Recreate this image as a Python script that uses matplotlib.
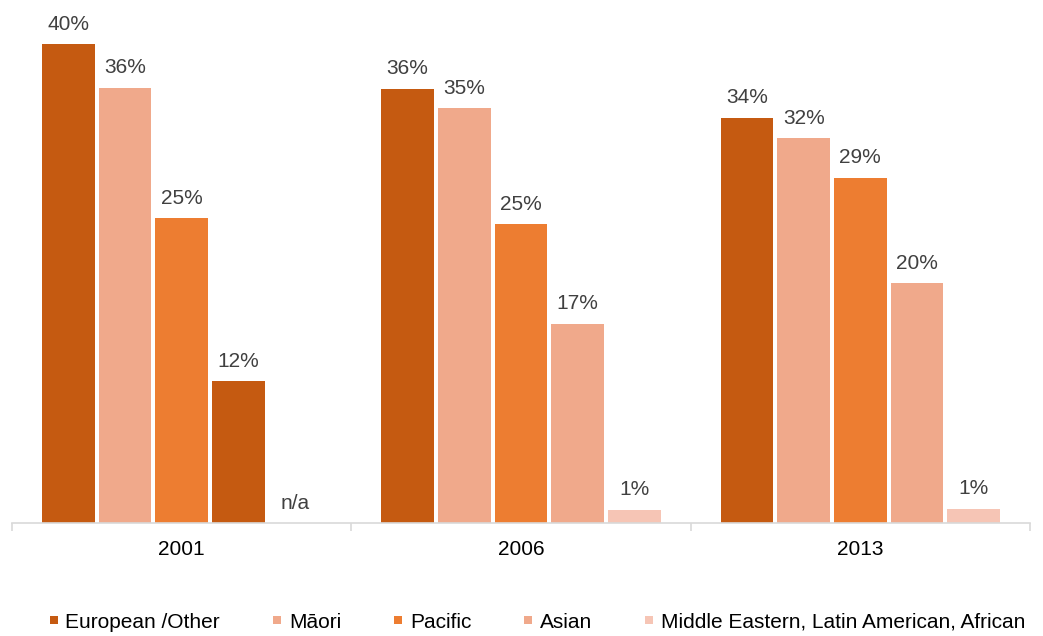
import numpy as np
import matplotlib
matplotlib.use("Agg")
import matplotlib.pyplot as plt
from matplotlib.lines import Line2D

plt.rcParams['font.family'] = ['Liberation Sans', 'DejaVu Sans']

years = ["2001", "2006", "2013"]
series = ["European /Other", "Māori", "Pacific", "Asian",
          "Middle Eastern, Latin American, African"]
european = [39.9, 36.2, 33.8]
maori = [36.3, 34.6, 32.1]
pacific = [25.4, 24.9, 28.8]
asian = [11.8, 16.6, 20.0]
melaa = [np.nan, 1.1, 1.2]
values = [european, maori, pacific, asian, melaa]

colors = ["#C55A11", "#F0A98B", "#ED7D31", "#F0A98B", "#F6C5B5"]
# the 2001 Asian bar is drawn in the dark colour in the original
override = {(3, 0): "#C55A11"}

fig = plt.figure(figsize=(10.43, 6.36), dpi=100)
ax = fig.add_axes([12/1043, 1 - 523/636, 1018/1043, 523/636])

x = np.arange(len(years))
step = 0.167
width = 0.156
n = len(series)
for i, (name, vals) in enumerate(zip(series, values)):
    pos = x + (i - (n - 1) / 2) * step
    cols = [override.get((i, j), colors[i]) for j in range(len(years))]
    hv = [0 if np.isnan(v) else v for v in vals]
    ax.bar(pos, hv, width=width, color=cols, linewidth=0)
    for p, v in zip(pos, vals):
        lab = "n/a" if np.isnan(v) else f"{v:.0f}%"
        ax.annotate(lab, (p, 0 if np.isnan(v) else v), xytext=(0, 7.5),
                    textcoords="offset points", ha="center", va="bottom",
                    fontsize=15, color="#404040")

ax.set_xlim(-0.5, 2.5)
ax.set_ylim(0, 43.6)
for s in ["top", "right", "left"]:
    ax.spines[s].set_visible(False)
ax.spines["bottom"].set_color("#D9D9D9")
ax.spines["bottom"].set_linewidth(1.2)
ax.set_yticks([])
ax.set_xticks(x)
ax.set_xticklabels(years, fontsize=15, color="#000000")
ax.tick_params(axis="x", which="major", length=0, pad=12)
ax.set_xticks([-0.5, 0.5, 1.5, 2.5], minor=True)
ax.tick_params(axis="x", which="minor", length=6, color="#D9D9D9", width=1.2)

handles = [Line2D([], [], marker="s", linestyle="none", markersize=5.5,
                  markerfacecolor=c, markeredgewidth=0) for c in colors]
fig.legend(handles, series, loc="center", bbox_to_anchor=(537/1043, 1 - 622/636),
           ncol=5, frameon=False, fontsize=15, handlelength=0.5,
           handletextpad=0.3, columnspacing=2.5, borderpad=0)

fig.savefig("out.png", dpi=100)
